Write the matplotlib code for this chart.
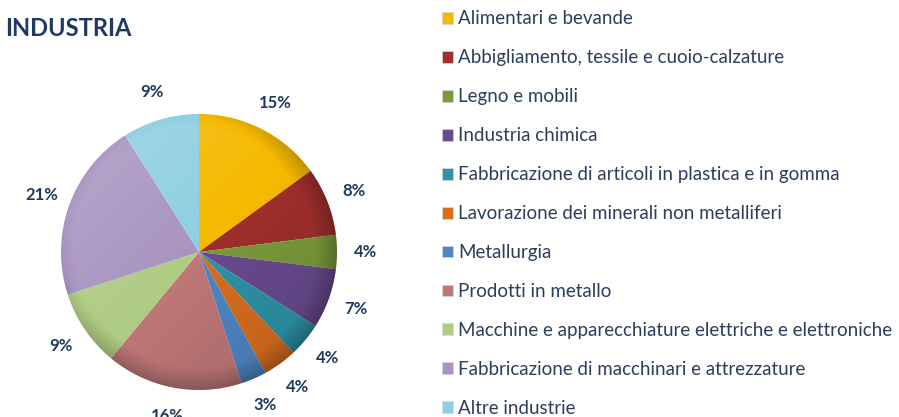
import matplotlib

matplotlib.use("Agg")
import matplotlib.pyplot as plt
import numpy as np
from matplotlib.patches import Circle, Rectangle

TITLE = "INDUSTRIA"

SECTORS = [
    "Alimentari e bevande",
    "Abbigliamento, tessile e cuoio-calzature",
    "Legno e mobili",
    "Industria chimica",
    "Fabbricazione di articoli in plastica e in gomma",
    "Lavorazione dei minerali non metalliferi",
    "Metallurgia",
    "Prodotti in metallo",
    "Macchine e apparecchiature elettriche e elettroniche",
    "Fabbricazione di macchinari e attrezzature",
    "Altre industrie",
]
SHARES = [15, 8, 4, 7, 4, 4, 3, 16, 9, 21, 9]
COLORS = [
    "#F5B900", "#9E2F2C", "#7A9A3C", "#684A8E", "#2E93A7", "#D86E1E",
    "#4F86C6", "#BF7777", "#AFCC84", "#A894C0", "#8ECFE0",
]

TEXT_DARK = "#1F3A5F"
W, H = 899, 417
CX, CY, R = 199, H - 252, 138

plt.rcParams["font.family"] = ["Lato", "DejaVu Sans"]

fig = plt.figure(figsize=(W / 100, H / 100), dpi=100)
ax = fig.add_axes([0, 0, 1, 1])

wedges, _, pct_texts = ax.pie(
    SHARES,
    colors=COLORS,
    startangle=90,
    counterclock=False,
    center=(CX, CY),
    radius=R,
    autopct=lambda p: f"{p:.0f}%",
    pctdistance=1.21,
    wedgeprops={"linewidth": 0},
    frame=True,
)
for t in pct_texts:
    t.set_fontsize(12)
    t.set_fontweight("bold")
    t.set_color(TEXT_DARK)

# soft shading over the pie (light top-left, darker bottom-right and rim)
n = 300
gx, gy = np.meshgrid(np.linspace(-1, 1, n), np.linspace(1, -1, n))
rr = np.sqrt(gx ** 2 + gy ** 2)
lin = (gx - gy) / 2.0
dark = np.clip(0.16 * lin + 0.2 * np.clip(rr - 0.85, 0, None) / 0.15, 0, 0.32)
light = np.clip(-0.2 * lin, 0, None)
shade = np.zeros((n, n, 4))
shade[..., :3] = np.where(light[..., None] > dark[..., None], 1.0, 0.0)
shade[..., 3] = np.clip(np.abs(dark - light), 0, 0.32)
im = ax.imshow(shade, extent=(CX - R, CX + R, CY - R, CY + R), zorder=3,
               interpolation="bilinear")
im.set_clip_path(Circle((CX, CY), R, transform=ax.transData))

ax.set_xlim(0, W)
ax.set_ylim(0, H)
ax.set_aspect("equal")
ax.axis("off")

fig.text(5 / W, 1 - 28 / H, TITLE, fontsize=17, fontweight="bold",
         color="#1F3864", ha="left", va="center")

handles = [Rectangle((0, 0), 1, 1, facecolor=c, edgecolor="#d8d8d8", linewidth=0.5)
           for c in COLORS]
fig.legend(
    handles,
    SECTORS,
    loc="upper left",
    bbox_to_anchor=(434 / W, 1 - 3 / H),
    frameon=False,
    fontsize=13.5,
    labelcolor="#2B3E5C",
    handlelength=0.6,
    handleheight=0.6,
    handletextpad=0.3,
    labelspacing=1.17,
    borderaxespad=0,
)

fig.savefig("out.png", dpi=100)
